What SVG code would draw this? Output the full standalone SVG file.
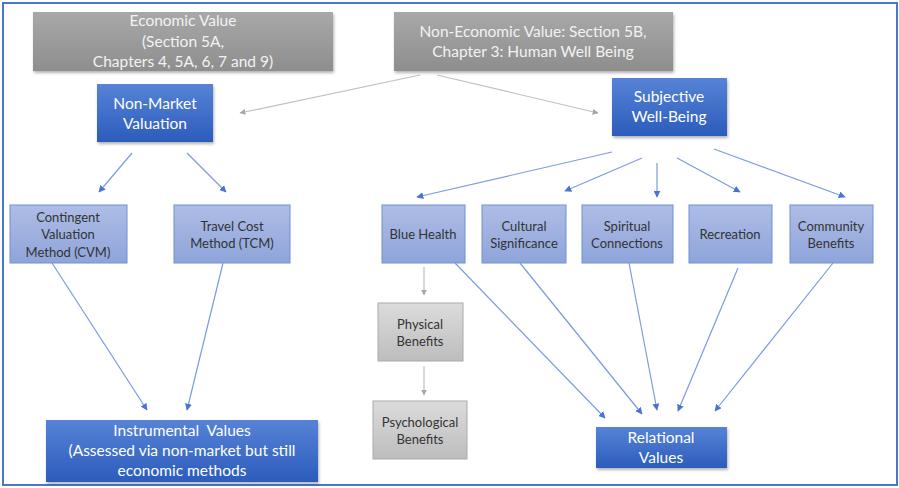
<svg xmlns="http://www.w3.org/2000/svg" width="899" height="488" viewBox="0 0 899 488">
<defs>
<linearGradient id="gGray" x1="0" y1="0" x2="0" y2="1"><stop offset="0" stop-color="#a8a8a8"/><stop offset="1" stop-color="#8e8e8e"/></linearGradient>
<linearGradient id="gBlue" x1="0" y1="0" x2="0" y2="1"><stop offset="0" stop-color="#5683d6"/><stop offset="1" stop-color="#2c5cbc"/></linearGradient>
<linearGradient id="gLight" x1="0" y1="0" x2="0" y2="1"><stop offset="0" stop-color="#aebde5"/><stop offset="1" stop-color="#8ea4da"/></linearGradient>
<linearGradient id="gLGray" x1="0" y1="0" x2="0" y2="1"><stop offset="0" stop-color="#dcdcdc"/><stop offset="1" stop-color="#bdbdbd"/></linearGradient>
<filter id="sh" x="-10%" y="-10%" width="120%" height="130%"><feDropShadow dx="1" dy="2" stdDeviation="1.5" flood-color="#000" flood-opacity="0.3"/></filter>
<marker id="aB" viewBox="0 0 10 10" refX="9" refY="5" markerWidth="7" markerHeight="7" markerUnits="userSpaceOnUse" orient="auto"><path d="M0,0 L10,5 L0,10 z" fill="#4a74d0"/></marker>
<marker id="aG" viewBox="0 0 10 10" refX="9" refY="5" markerWidth="6" markerHeight="6" markerUnits="userSpaceOnUse" orient="auto"><path d="M0,0 L10,5 L0,10 z" fill="#a6a6a6"/></marker>
</defs>
<style>
text{font-family:Lato,"Open Sans","Liberation Sans",sans-serif;text-anchor:middle}
.tw{fill:#ffffff;font-size:15.5px}
.tg{fill:#f2f2f2;font-size:15.5px}
.td{fill:#333333;font-size:13px}
.gray{fill:url(#gGray);filter:url(#sh)}
.blue{fill:url(#gBlue);filter:url(#sh)}
.light{fill:url(#gLight);stroke:#6f90d8;stroke-width:1}
.lgray{fill:url(#gLGray);stroke:#aaaaaa;stroke-width:1}
.cb{stroke:#7b9be0;stroke-width:1.2;fill:none;marker-end:url(#aB)}
.cg{stroke:#c0c0c0;stroke-width:1.2;fill:none;marker-end:url(#aG)}
</style>
<rect x="0" y="0" width="899" height="488" fill="#ffffff"/>
<rect x="3" y="3" width="894" height="482" fill="none" stroke="#4a76cc" stroke-width="2"/>

<g id="connectors">
<line class="cg" x1="420" y1="75" x2="240" y2="113"/>
<line class="cg" x1="437" y1="75" x2="598" y2="113"/>
<line class="cb" x1="132" y1="153" x2="99" y2="192"/>
<line class="cb" x1="187" y1="153" x2="226" y2="192"/>
<line class="cb" x1="612" y1="152" x2="417" y2="197"/>
<line class="cb" x1="642" y1="158" x2="565" y2="191"/>
<line class="cb" x1="657" y1="163" x2="657" y2="197"/>
<line class="cb" x1="677" y1="158" x2="740" y2="192"/>
<line class="cb" x1="714" y1="149" x2="845" y2="197"/>
<line class="cb" x1="52" y1="263" x2="147" y2="410"/>
<line class="cb" x1="223" y1="263" x2="187" y2="410"/>
<line class="cg" x1="424" y1="267" x2="424" y2="295"/>
<line class="cg" x1="424" y1="366" x2="424" y2="395"/>
<line class="cb" x1="455" y1="263" x2="605" y2="418"/>
<line class="cb" x1="520" y1="263" x2="642" y2="414"/>
<line class="cb" x1="629" y1="263" x2="657" y2="410"/>
<line class="cb" x1="738" y1="268" x2="678" y2="411"/>
<line class="cb" x1="833" y1="263" x2="715" y2="411"/>
</g>

<g id="economic">
<rect class="gray" x="33" y="12" width="300" height="59"/>
<text class="tg" x="183" y="26">Economic Value</text>
<text class="tg" x="183" y="47">(Section 5A,</text>
<text class="tg" x="183" y="67">Chapters 4, 5A, 6, 7 and 9)</text>
</g>
<g id="noneconomic">
<rect class="gray" x="394" y="12" width="279" height="59"/>
<text class="tg" x="533" y="37">Non-Economic Value: Section 5B,</text>
<text class="tg" x="533" y="57">Chapter 3: Human Well Being</text>
</g>
<g id="nonmarket">
<rect class="blue" x="97" y="84" width="116" height="58"/>
<text class="tw" x="155" y="109">Non-Market</text>
<text class="tw" x="155" y="129">Valuation</text>
</g>
<g id="subjective">
<rect class="blue" x="612" y="78" width="115" height="58"/>
<text class="tw" x="669" y="102">Subjective</text>
<text class="tw" x="669" y="122">Well-Being</text>
</g>
<g id="cvm">
<rect class="light" x="10" y="205" width="117" height="58"/>
<text class="td" x="68" y="222">Contingent</text>
<text class="td" x="68" y="239">Valuation</text>
<text class="td" x="68" y="257">Method (CVM)</text>
</g>
<g id="tcm">
<rect class="light" x="174" y="205" width="116" height="58"/>
<text class="td" x="232" y="231">Travel Cost</text>
<text class="td" x="232" y="248">Method (TCM)</text>
</g>
<g id="bluehealth">
<rect class="light" x="382" y="205" width="83" height="58"/>
<text class="td" x="423" y="239">Blue Health</text>
</g>
<g id="cultural">
<rect class="light" x="482" y="205" width="84" height="58"/>
<text class="td" x="524" y="231">Cultural</text>
<text class="td" x="524" y="248">Significance</text>
</g>
<g id="spiritual">
<rect class="light" x="582" y="205" width="91" height="58"/>
<text class="td" x="627" y="231">Spiritual</text>
<text class="td" x="627" y="248">Connections</text>
</g>
<g id="recreation">
<rect class="light" x="689" y="205" width="83" height="58"/>
<text class="td" x="730" y="239">Recreation</text>
</g>
<g id="community">
<rect class="light" x="790" y="205" width="83" height="58"/>
<text class="td" x="831" y="231">Community</text>
<text class="td" x="831" y="248">Benefits</text>
</g>
<g id="physical">
<rect class="lgray" x="378" y="303" width="85" height="58"/>
<text class="td" x="420" y="329">Physical</text>
<text class="td" x="420" y="346">Benefits</text>
</g>
<g id="psychological">
<rect class="lgray" x="373" y="401" width="94" height="58"/>
<text class="td" x="420" y="427">Psychological</text>
<text class="td" x="420" y="444">Benefits</text>
</g>
<g id="instrumental">
<rect class="blue" x="46" y="420" width="272" height="62"/>
<text class="tw" x="182" y="436" xml:space="preserve">Instrumental  Values</text>
<text class="tw" x="182" y="456">(Assessed via non-market but still</text>
<text class="tw" x="182" y="476">economic methods</text>
</g>
<g id="relational">
<rect class="blue" x="596" y="427" width="131" height="41"/>
<text class="tw" x="661" y="443">Relational</text>
<text class="tw" x="661" y="463">Values</text>
</g>
</svg>
